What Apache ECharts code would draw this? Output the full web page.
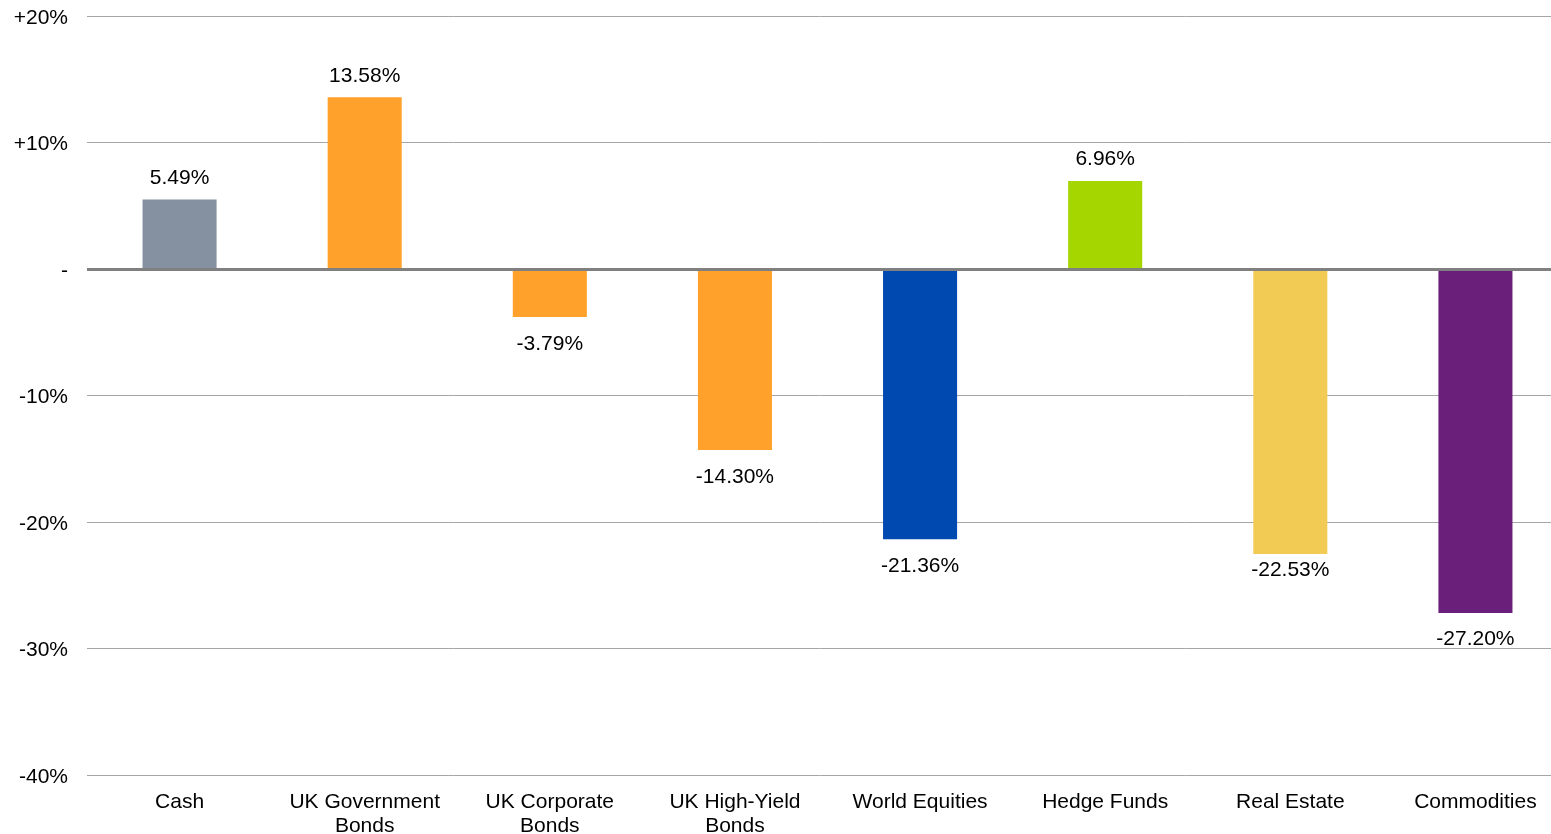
<!DOCTYPE html>
<html>
<head>
<meta charset="utf-8">
<style>
  html, body { margin: 0; padding: 0; background: #ffffff; }
  #chart { width: 1551px; height: 834px; }
</style>
<script src="https://cdn.jsdelivr.net/npm/echarts@6/dist/echarts.min.js"></script>
</head>
<body>
<div id="chart"></div>
<script>
// Asset class returns (%)
const categories = ['Cash', 'UK Government\nBonds', 'UK Corporate\nBonds', 'UK High-Yield\nBonds',
  'World Equities', 'Hedge Funds', 'Real Estate', 'Commodities'];
const returns = [5.49, 13.58, -3.79, -14.30, -21.36, 6.96, -22.53, -27.20];
const barColors = ['#8591A1', '#FFA12B', '#FFA12B', '#FFA12B', '#0049B0', '#A5D600', '#F2CB55', '#6A207B'];
// Gap between each bar end and its value label
const labelGaps = [11, 11, 17, 17, 16, 11, 6, 16];
const yTicks = { min: -40, max: 20, interval: 10 };

const font = 'Liberation Sans, Arial, sans-serif';
const chart = echarts.init(document.getElementById('chart'));

const tickText = v => v === 0 ? '-' : (v > 0 ? '+' + v + '%' : v + '%');

chart.setOption({
  animation: false,
  backgroundColor: '#ffffff',
  // plot area runs slightly past the right edge of the canvas
  grid: { left: 87, right: -17, top: 16, bottom: 59, containLabel: false, outerBoundsMode: 'none' },
  xAxis: {
    type: 'category',
    data: categories,
    axisLine: { show: false },
    axisTick: { show: false },
    axisLabel: {
      color: '#000000', fontFamily: font, fontSize: 21, lineHeight: 24,
      margin: 15, interval: 0
    }
  },
  yAxis: {
    type: 'value',
    min: yTicks.min, max: yTicks.max, interval: yTicks.interval,
    axisLine: { show: false },
    axisTick: { show: false },
    splitLine: { lineStyle: { color: '#A6A6A6', width: 1 } },
    axisLabel: {
      color: '#000000', fontFamily: font, fontSize: 21, margin: 19,
      formatter: v => '{t|' + tickText(v) + '}',
      rich: {
        t: { color: '#000000', fontFamily: font, fontSize: 21, padding: [4, 0, 0, 0] }
      }
    }
  },
  series: [{
    type: 'bar',
    barWidth: '40%',
    data: returns.map((v, i) => ({
      value: v,
      itemStyle: { color: barColors[i] },
      label: {
        show: true,
        position: v >= 0 ? 'top' : 'bottom',
        distance: labelGaps[i]
      }
    })),
    label: {
      color: '#000000', fontFamily: font, fontSize: 21,
      formatter: p => p.value.toFixed(2) + '%'
    },
    markLine: {
      silent: true,
      symbol: 'none',
      label: { show: false },
      lineStyle: { color: '#808080', width: 3, type: 'solid' },
      data: [{ yAxis: 0 }]
    }
  }]
});
</script>
</body>
</html>
